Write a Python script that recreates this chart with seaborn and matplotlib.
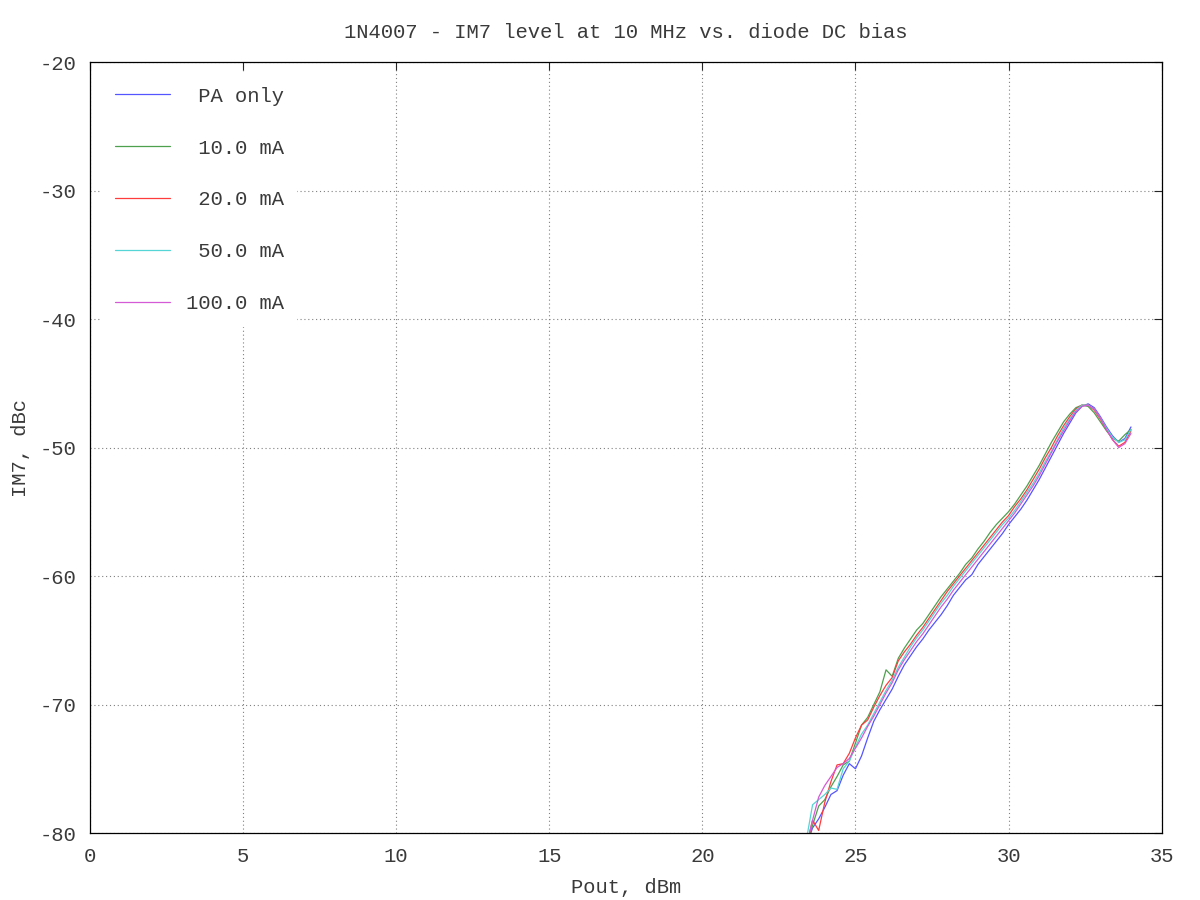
import pandas as pd
import seaborn as sns
import matplotlib
matplotlib.use("Agg")
import matplotlib.pyplot as plt

# Pout sweep, dBm
pout = [23.4, 23.6, 23.8, 24.0, 24.2, 24.4, 24.6, 24.8, 25.0, 25.2,
        25.4, 25.6, 25.8, 26.0, 26.2, 26.4, 26.6, 26.8, 27.0, 27.2,
        27.4, 27.6, 27.8, 28.0, 28.2, 28.4, 28.6, 28.8, 29.0, 29.2,
        29.4, 29.6, 29.8, 30.0, 30.2, 30.4, 30.6, 30.8, 31.0, 31.2,
        31.4, 31.6, 31.8, 32.0, 32.2, 32.4, 32.6, 32.8, 33.0, 33.2,
        33.4, 33.6, 33.8, 34.0]

# IM7 level, dBc, one list per bias setting
im7_pa_only = [-81.0, -79.6, -78.9, -78.0, -77.0, -76.7, -75.5, -74.6, -75.0, -74.0,
               -72.6, -71.3, -70.4, -69.6, -68.8, -67.8, -66.9, -66.2, -65.5, -64.9,
               -64.2, -63.6, -63.0, -62.3, -61.5, -60.9, -60.3, -59.9, -59.1, -58.5,
               -57.9, -57.3, -56.7, -56.0, -55.4, -54.8, -54.1, -53.3, -52.5, -51.6,
               -50.7, -49.8, -48.9, -48.1, -47.3, -46.8, -46.6, -46.9, -47.6, -48.4,
               -49.1, -49.6, -49.3, -48.4]
im7_10ma = [-81.0, -79.4, -77.9, -77.4, -76.4, -75.6, -74.7, -74.4, -73.0, -71.6,
            -71.0, -70.0, -69.0, -67.3, -67.8, -66.4, -65.6, -64.9, -64.2, -63.7,
            -63.0, -62.3, -61.6, -61.0, -60.4, -59.8, -59.1, -58.6, -57.9, -57.3,
            -56.6, -56.0, -55.5, -55.0, -54.4, -53.7, -53.0, -52.2, -51.4, -50.5,
            -49.6, -48.8, -48.0, -47.4, -46.9, -46.7, -46.8, -47.3, -48.0, -48.7,
            -49.3, -49.5, -49.0, -48.6]
im7_20ma = [-81.0, -79.0, -79.8, -77.6, -76.0, -74.7, -74.6, -73.8, -72.6, -71.6,
            -71.2, -70.2, -69.3, -68.5, -67.9, -66.6, -65.9, -65.3, -64.6, -64.0,
            -63.3, -62.6, -61.9, -61.2, -60.6, -60.0, -59.4, -58.8, -58.2, -57.6,
            -57.0, -56.4, -55.8, -55.3, -54.6, -54.0, -53.3, -52.5, -51.7, -50.8,
            -50.0, -49.1, -48.3, -47.6, -47.0, -46.7, -46.7, -47.1, -47.8, -48.6,
            -49.4, -49.9, -49.6, -48.7]
im7_50ma = [-80.5, -77.8, -77.4, -77.0, -76.5, -76.6, -75.0, -74.4, -73.3, -72.3,
            -71.6, -70.7, -69.8, -68.9, -68.1, -67.1, -66.3, -65.5, -64.8, -64.2,
            -63.5, -62.8, -62.1, -61.5, -60.8, -60.2, -59.6, -59.0, -58.4, -57.8,
            -57.2, -56.6, -56.0, -55.5, -54.9, -54.2, -53.5, -52.8, -52.0, -51.1,
            -50.3, -49.4, -48.5, -47.8, -47.1, -46.7, -46.7, -47.0, -47.7, -48.5,
            -49.2, -49.6, -49.4, -48.6]
im7_100ma = [-81.0, -79.0, -77.2, -76.3, -75.6, -74.9, -74.6, -74.2, -73.4, -72.6,
             -71.7, -70.9, -70.0, -69.1, -68.3, -67.3, -66.5, -65.8, -65.1, -64.5,
             -63.8, -63.1, -62.4, -61.8, -61.1, -60.5, -59.9, -59.3, -58.7, -58.1,
             -57.5, -56.9, -56.3, -55.7, -55.1, -54.4, -53.7, -53.0, -52.2, -51.3,
             -50.4, -49.5, -48.7, -47.9, -47.2, -46.8, -46.7, -47.0, -47.7, -48.6,
             -49.4, -50.0, -49.7, -48.9]

labels = ["PA only", "10.0 mA", "20.0 mA", "50.0 mA", "100.0 mA"]
colors = ["#5555ff", "#4ea04e", "#ff3c3c", "#55d5d5", "#d55ad5"]

frames = []
for lab, vals in zip(labels, [im7_pa_only, im7_10ma, im7_20ma, im7_50ma, im7_100ma]):
    frames.append(pd.DataFrame({"pout": pout, "im7": vals, "bias": lab}))
df = pd.concat(frames, ignore_index=True)

sns.set_style("white")
plt.rcParams["font.family"] = ["Liberation Mono", "DejaVu Sans Mono"]
plt.rcParams["axes.unicode_minus"] = False
fs = 14.8
txt = "#3a3a3a"

fig = plt.figure(figsize=(12, 9), dpi=100)
ax = fig.add_axes([0.075, 0.0744, 0.893, 0.8567])

sns.lineplot(data=df, x="pout", y="im7", hue="bias", hue_order=labels,
             palette=colors, linewidth=0.9, ax=ax, sort=False)

ax.set_xlim(0, 35)
ax.set_ylim(-80, -20)
ax.set_xticks(range(0, 36, 5))
ax.set_yticks(range(-80, -19, 10))
ax.grid(True, linestyle=(0, (1, 2.5)), color="#808080", linewidth=0.8)
ax.tick_params(direction="in", length=6, width=0.8, top=True, right=True,
               labelsize=fs, labelcolor=txt, pad=10)
for s in ax.spines.values():
    s.set_color("black")
    s.set_linewidth(0.9)

ax.set_title("1N4007 - IM7 level at 10 MHz vs. diode DC bias", fontsize=fs,
             color=txt, pad=17)
ax.set_xlabel("Pout, dBm", fontsize=fs, color=txt, labelpad=9)
ax.set_ylabel("IM7, dBc", fontsize=fs, color=txt, labelpad=7)

handles, _ = ax.get_legend_handles_labels()
width = max(len(l) for l in labels)
leg = ax.legend(handles, [l.rjust(width) for l in labels], loc="upper left",
                frameon=True, fontsize=fs, handlelength=2.7, handletextpad=0.75,
                labelspacing=1.6, borderaxespad=0.6, borderpad=0.6)
leg.get_frame().set_edgecolor("white")
leg.get_frame().set_facecolor("white")
leg.get_frame().set_alpha(1.0)
for t in leg.get_texts():
    t.set_color(txt)
for line in leg.get_lines():
    line.set_linewidth(0.9)

fig.savefig("out.png", dpi=100)
